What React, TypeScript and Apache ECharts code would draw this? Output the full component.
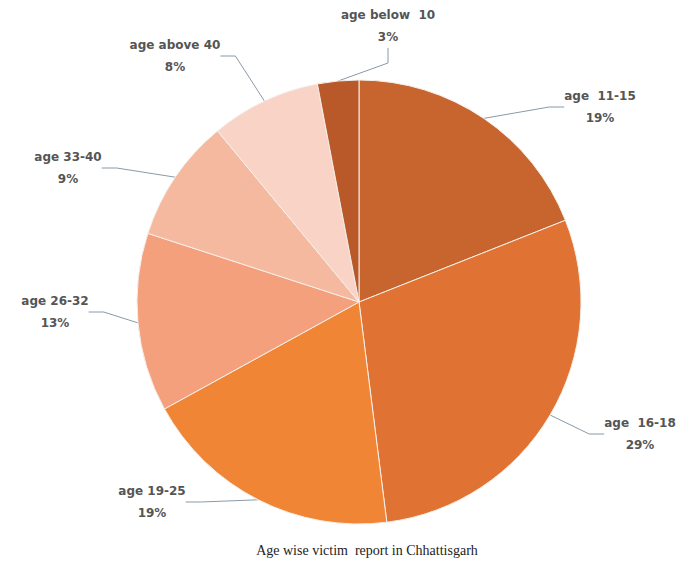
import React, { useEffect, useRef } from "react";
import * as echarts from "echarts";

const categories = ["age  11-15", "age  16-18", "age 19-25", "age 26-32", "age 33-40", "age above 40", "age below  10"];
const values = [19, 29, 19, 13, 9, 8, 3];
const colors = ["#c8652f", "#e07333", "#f08536", "#f4a07c", "#f5b9a0", "#f8d3c6", "#b9592a"];
const labelCenters: [number, number][] = [
  [600, 107],
  [640, 434],
  [152, 502],
  [55, 312],
  [68, 168],
  [175, 56],
  [388, 26],
];
const titleText = "Age wise victim  report in Chhattisgarh";

export default function App() {
  const ref = useRef<HTMLDivElement>(null);
  useEffect(() => {
    if (!ref.current) return;
    const chart = echarts.init(ref.current, undefined, { renderer: "svg" });
    chart.setOption({
      animation: false,
      backgroundColor: "#ffffff",
      title: {
        text: titleText,
        left: 362,
        textAlign: "center",
        top: 538,
        textStyle: { fontFamily: "Liberation Serif", fontSize: 14, fontWeight: "normal", color: "#222" },
      },
      series: [
        {
          type: "pie",
          center: [359, 302],
          radius: 222,
          startAngle: 90,
          clockwise: true,
          data: categories.map((c, i) => ({
            name: c,
            value: values[i],
            itemStyle: { color: colors[i] },
          })),
          itemStyle: { borderColor: "#f4efe9", borderWidth: 1 },
          label: {
            show: true,
            position: "outside",
            formatter: (p: any) => `${p.name}\n${p.value}%`,
            fontFamily: "DejaVu Sans",
            fontSize: 12,
            fontWeight: "bold",
            color: "#555",
            lineHeight: 22,
            align: "center",
          },
          labelLine: { show: true, length: 15, length2: 15, lineStyle: { color: "#8a9aa8", width: 1 } },
          labelLayout: (p: any) => {
            const c = labelCenters[p.dataIndex];
            return { x: c[0], y: c[1], align: "center", verticalAlign: "middle" };
          },
        },
      ],
    });
    return () => chart.dispose();
  }, []);
  return <div ref={ref} style={{ position: "absolute", left: 0, top: 0, width: 695, height: 571 }} />;
}
